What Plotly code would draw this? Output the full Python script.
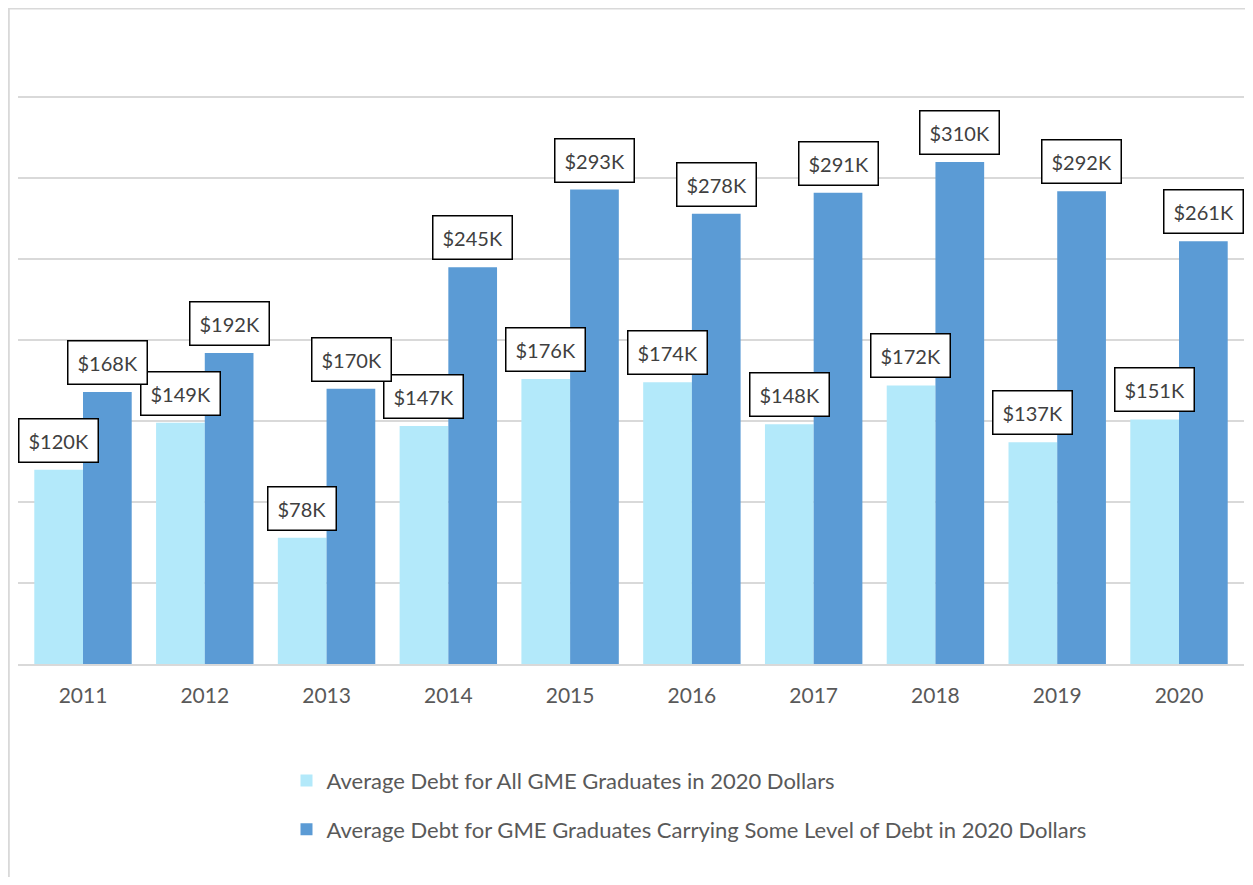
import plotly.graph_objects as go

years = ["2011", "2012", "2013", "2014", "2015", "2016", "2017", "2018", "2019", "2020"]
all_grads = [120, 149, 78, 147, 176, 174, 148, 172, 137, 151]
with_debt = [168, 192, 170, 245, 293, 278, 291, 310, 292, 261]
name_all = "Average Debt for All GME Graduates in 2020 Dollars"
name_debt = "Average Debt for GME Graduates Carrying Some Level of Debt in 2020 Dollars"

LIGHT = "#B3E9FA"
DARK = "#5B9BD5"
FONT = "Lato"

fig = go.Figure()
fig.add_trace(go.Bar(x=years, y=all_grads, name=name_all, marker_color=LIGHT,
                     marker_line_width=0, legendgroup="a"))
fig.add_trace(go.Bar(x=years, y=with_debt, name=name_debt, marker_color=DARK,
                     marker_line_width=0, legendgroup="b"))

annotations = []
for series, shift in ((all_grads, -24.5), (with_debt, 24.5)):
    for i, v in enumerate(series):
        annotations.append(dict(
            x=i, y=v, xref="x", yref="y", text=f"${v}K", showarrow=False,
            xshift=shift, yshift=7, yanchor="bottom", xanchor="center",
            font=dict(family=FONT, size=20, color="#404040"),
            bgcolor="white", bordercolor="black", borderwidth=1.5, borderpad=9,
        ))

fig.update_layout(
    width=1237, height=869,
    margin=dict(l=10, r=1, t=86, b=213),
    paper_bgcolor="white", plot_bgcolor="white",
    barmode="group", bargap=0.2, bargroupgap=0,
    font=dict(family=FONT, color="#595959"),
    showlegend=True,
    legend=dict(orientation="v", x=0.219, xanchor="left", y=-0.168, yanchor="top",
                font=dict(family=FONT, size=22, color="#595959"),
                tracegroupgap=17, itemclick=False),
    annotations=annotations,
    shapes=[dict(type="rect", xref="paper", yref="paper",
                 x0=-0.0075, x1=1.1, y0=-1.0, y1=1.150,
                 line=dict(color="#D9D9D9", width=2), fillcolor="rgba(0,0,0,0)",
                 layer="below")],
)
fig.update_xaxes(type="category", showline=True, linecolor="#D9D9D9", linewidth=1.5,
                 showgrid=False, ticks="", ticklabelstandoff=12,
                 tickfont=dict(family=FONT, size=21, color="#595959"))
fig.update_yaxes(range=[0, 352], tickvals=[0, 50, 100, 150, 200, 250, 300, 350],
                 showticklabels=False, showgrid=True,
                 gridcolor="#D9D9D9", gridwidth=1.5, zeroline=False, showline=False)

fig.write_html("out.html")
